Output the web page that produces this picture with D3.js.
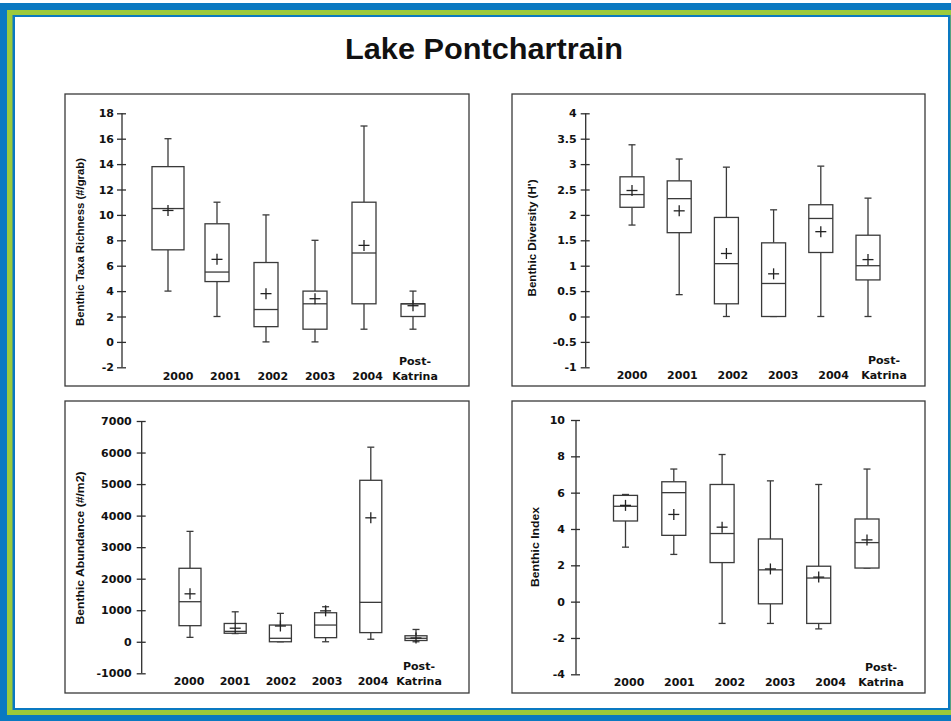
<!DOCTYPE html>
<html>
<head>
<meta charset="utf-8">
<script src="https://cdn.jsdelivr.net/npm/d3@7"></script>
<style>
  html, body { margin: 0; padding: 0; background: #ffffff; }
  svg { display: block; }
</style>
</head>
<body>
<svg id="chart" width="951" height="721"></svg>
<script>
// ---------------- DATA ----------------
const categories = ["2000", "2001", "2002", "2003", "2004", "Post-Katrina"];

// Benthic Taxa Richness (#/grab)
const richnessLow    = [4, 2, 0, 0, 1, 1];
const richnessQ1     = [7.25, 4.75, 1.2, 1, 3, 2];
const richnessMedian = [10.5, 5.5, 2.55, 3, 7, 3];
const richnessQ3     = [13.8, 9.3, 6.25, 4, 11, 3];
const richnessHigh   = [16, 11, 10, 8, 17, 4];
const richnessMean   = [10.35, 6.5, 3.8, 3.4, 7.6, 2.85];
const richnessTicks  = [-2, 0, 2, 4, 6, 8, 10, 12, 14, 16, 18];

// Benthic Diversity (H')
const diversityLow    = [1.8, 0.43, 0, 0, 0, 0];
const diversityQ1     = [2.15, 1.65, 0.25, 0, 1.26, 0.72];
const diversityMedian = [2.4, 2.32, 1.04, 0.65, 1.93, 1.0];
const diversityQ3     = [2.75, 2.67, 1.95, 1.45, 2.2, 1.6];
const diversityHigh   = [3.38, 3.1, 2.94, 2.1, 2.96, 2.33];
const diversityMean   = [2.48, 2.08, 1.24, 0.84, 1.67, 1.12];
const diversityTicks  = [-1, -0.5, 0, 0.5, 1, 1.5, 2, 2.5, 3, 3.5, 4];

// Benthic Abundance (#/m2)
const abundanceLow    = [140, 260, 0, 0, 80, 0];
const abundanceQ1     = [510, 270, 0, 130, 290, 40];
const abundanceMedian = [1270, 330, 110, 530, 1250, 110];
const abundanceQ3     = [2330, 580, 530, 920, 5120, 190];
const abundanceHigh   = [3500, 950, 900, 1110, 6170, 390];
const abundanceMean   = [1520, 430, 500, 980, 3930, 120];
const abundanceTicks  = [-1000, 0, 1000, 2000, 3000, 4000, 5000, 6000, 7000];

// Benthic Index
const indexLow    = [3.0, 2.6, -1.2, -1.2, -1.5, 1.85];
const indexQ1     = [4.44, 3.65, 2.15, -0.12, -1.2, 1.85];
const indexMedian = [5.25, 6.0, 3.75, 1.75, 1.3, 3.25];
const indexQ3     = [5.85, 6.6, 6.45, 3.45, 1.95, 4.55];
const indexHigh   = [5.9, 7.3, 8.1, 6.65, 6.45, 7.3];
const indexMean   = [5.3, 4.8, 4.1, 1.8, 1.35, 3.4];
const indexTicks  = [-4, -2, 0, 2, 4, 6, 8, 10];

const titleText = "Lake Pontchartrain";

// ---------------- LAYOUT / STYLE ----------------
const panels = [
  { title: "Benthic Taxa Richness (#/grab)", low: richnessLow, q1: richnessQ1, med: richnessMedian, q3: richnessQ3, high: richnessHigh, mean: richnessMean, ticks: richnessTicks,
    frame: [65, 94, 469, 386], axisX: 122, yRange: [367.3, 113.3], boxRange: [168, 413], labelRange: [178, 415], labelY: 380,
    boxW: 24, firstBoxW: 32, pad: 3, ttl: { x: 80, y: 242, len: 168 } },
  { title: "Benthic Diversity (H')", low: diversityLow, q1: diversityQ1, med: diversityMedian, q3: diversityQ3, high: diversityHigh, mean: diversityMean, ticks: diversityTicks,
    frame: [512, 94, 925, 386], axisX: 585.7, yRange: [367.3, 113.3], boxRange: [632, 868], labelRange: [632, 884], labelY: 379,
    boxW: 24, firstBoxW: 24, pad: 4, ttl: { x: 532, y: 238, len: 117 } },
  { title: "Benthic Abundance (#/m2)", low: abundanceLow, q1: abundanceQ1, med: abundanceMedian, q3: abundanceQ3, high: abundanceHigh, mean: abundanceMean, ticks: abundanceTicks,
    frame: [65, 401, 469, 693], axisX: 141.7, yRange: [673.3, 421], boxRange: [190, 416], labelRange: [189, 419], labelY: 685,
    boxW: 22, firstBoxW: 22, pad: 5, ttl: { x: 80, y: 548, len: 153 } },
  { title: "Benthic Index", low: indexLow, q1: indexQ1, med: indexMedian, q3: indexQ3, high: indexHigh, mean: indexMean, ticks: indexTicks,
    frame: [512, 401, 925, 693], axisX: 576, yRange: [674.3, 420], boxRange: [625.5, 867], labelRange: [629, 881], labelY: 686,
    boxW: 24, firstBoxW: 24, pad: 6, ttl: { x: 535, y: 547, len: 80 } }
];

const BLUE = "#0a79c1";
const GREEN = "#9cca3c";
const INK = "#2e2e2e";
const BOXINK = "#3a3a3a";
const labelFont = "'DejaVu Sans', Verdana, sans-serif";
const titleFont = "'Liberation Sans', Arial, Helvetica, sans-serif";

const svg = d3.select("#chart");

// ---------------- FRAME ----------------
svg.append("rect").attr("x", 0).attr("y", 0).attr("width", 951).attr("height", 721).attr("fill", "#ffffff");
svg.append("rect").attr("x", 0).attr("y", 3).attr("width", 960).attr("height", 718).attr("fill", BLUE);
svg.append("rect").attr("x", 7).attr("y", 10).attr("width", 960).attr("height", 705).attr("fill", GREEN);
svg.append("rect").attr("x", 12.5).attr("y", 15).attr("width", 938).attr("height", 695).attr("fill", BLUE);
svg.append("rect").attr("x", 15).attr("y", 17).attr("width", 933).attr("height", 691).attr("fill", "#ffffff");

// ---------------- TITLE ----------------
svg.append("text")
  .attr("x", 484).attr("y", 58.5)
  .attr("text-anchor", "middle")
  .attr("font-family", titleFont)
  .attr("font-weight", "bold")
  .attr("font-size", 30)
  .attr("textLength", 278)
  .attr("lengthAdjust", "spacingAndGlyphs")
  .attr("fill", "#111")
  .text(titleText);

// ---------------- PANELS ----------------
panels.forEach(p => {
  const g = svg.append("g");
  const [x0, y0, x1, y1] = p.frame;

  g.append("rect")
    .attr("x", x0).attr("y", y0).attr("width", x1 - x0).attr("height", y1 - y0)
    .attr("fill", "none").attr("stroke", "#3a3a3a").attr("stroke-width", 1.3);

  const y = d3.scaleLinear().domain(d3.extent(p.ticks)).range(p.yRange);
  const x = d3.scalePoint().domain(categories).range(p.boxRange);
  const xl = d3.scalePoint().domain(categories).range(p.labelRange);

  // Y axis
  const axis = d3.axisLeft(y).tickValues(p.ticks).tickSize(5).tickPadding(p.pad)
    .tickFormat(d => String(d));
  const ag = g.append("g").attr("transform", `translate(${p.axisX},0)`).call(axis);
  ag.select(".domain").attr("stroke", INK).attr("stroke-width", 1.3).attr("d", `M0,${p.yRange[0]}V${p.yRange[1]}`);
  ag.selectAll(".tick line").attr("stroke", INK).attr("stroke-width", 1.3).attr("x1", 4).attr("x2", -5);
  ag.selectAll(".tick text")
    .attr("font-family", labelFont).attr("font-weight", "bold").attr("font-size", 11).attr("fill", "#111");

  // Y axis title
  g.append("text")
    .attr("transform", `translate(${p.ttl.x},${p.ttl.y}) rotate(-90)`)
    .attr("text-anchor", "middle")
    .attr("dy", "0.35em")
    .attr("font-family", titleFont)
    .attr("font-weight", "bold")
    .attr("font-size", 11.5)
    .attr("textLength", p.ttl.len)
    .attr("lengthAdjust", "spacingAndGlyphs")
    .attr("fill", "#111")
    .text(p.title);

  // Boxes
  categories.forEach((c, i) => {
    const cx = x(c);
    const w = i === 0 ? p.firstBoxW : p.boxW;
    const bg = g.append("g").attr("stroke", BOXINK).attr("stroke-width", 1.3).attr("fill", "none");
    // whiskers
    bg.append("line").attr("x1", cx).attr("x2", cx).attr("y1", y(p.q3[i])).attr("y2", y(p.high[i]));
    bg.append("line").attr("x1", cx).attr("x2", cx).attr("y1", y(p.q1[i])).attr("y2", y(p.low[i]));
    bg.append("line").attr("x1", cx - 3.5).attr("x2", cx + 3.5).attr("y1", y(p.high[i])).attr("y2", y(p.high[i]));
    bg.append("line").attr("x1", cx - 3.5).attr("x2", cx + 3.5).attr("y1", y(p.low[i])).attr("y2", y(p.low[i]));
    // box
    bg.append("rect")
      .attr("x", cx - w / 2).attr("width", w)
      .attr("y", y(p.q3[i])).attr("height", Math.max(0.5, y(p.q1[i]) - y(p.q3[i])))
      .attr("fill", "#ffffff");
    // median
    bg.append("line").attr("x1", cx - w / 2).attr("x2", cx + w / 2).attr("y1", y(p.med[i])).attr("y2", y(p.med[i]));
    // mean cross
    const my = y(p.mean[i]);
    bg.append("line").attr("x1", cx - 5.5).attr("x2", cx + 5.5).attr("y1", my).attr("y2", my).attr("stroke", "#222");
    bg.append("line").attr("x1", cx).attr("x2", cx).attr("y1", my - 5.5).attr("y2", my + 5.5).attr("stroke", "#222");
  });

  // Category labels
  categories.forEach(c => {
    const lx = xl(c);
    const t = g.append("text")
      .attr("x", lx).attr("y", p.labelY)
      .attr("text-anchor", "middle")
      .attr("font-family", labelFont).attr("font-weight", "bold").attr("font-size", 11)
      .attr("fill", "#111");
    if (c === "Post-Katrina") {
      t.append("tspan").attr("x", lx).attr("dy", -15).text("Post-");
      t.append("tspan").attr("x", lx).attr("dy", 15).text("Katrina");
    } else {
      t.text(c);
    }
  });
});
</script>
</body>
</html>
